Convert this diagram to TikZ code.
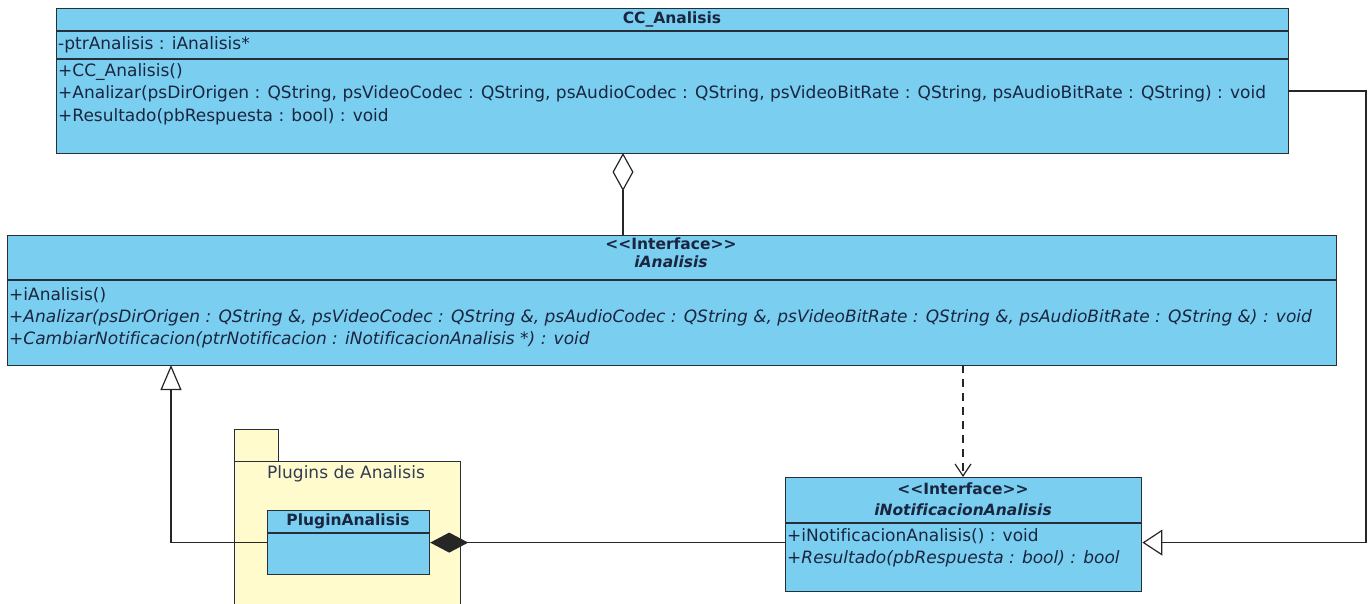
\documentclass[tikz,border=0pt]{standalone}
\usepackage{fontspec}
\setmainfont{DejaVu Sans}[Ligatures={TeX,NoCommon}]
\usetikzlibrary{arrows.meta}
\definecolor{clsfill}{RGB}{122,206,240}
\definecolor{pkgfill}{RGB}{255,251,204}
\definecolor{ink}{RGB}{26,38,64}
\definecolor{edge}{RGB}{38,46,58}
\tikzset{
  classbox/.style={draw=edge, line width=1.4pt, fill=clsfill, inner sep=0pt, anchor=north west},
  pkgbox/.style={draw=edge, line width=1.2pt, fill=pkgfill, inner sep=0pt, anchor=north west},
  sepline/.style={draw=edge, line width=1.3pt},
  member/.style={anchor=west, inner sep=0pt, text=ink, text height=12pt, text depth=4pt,
                 font=\fontsize{17}{19}\selectfont},
  amember/.style={member, font=\fontsize{17}{19}\selectfont\itshape},
  title/.style={anchor=center, inner sep=0pt, text=ink, text height=11pt, text depth=3pt,
                font=\fontsize{15.5}{17}\selectfont\bfseries},
  atitle/.style={title, font=\fontsize{15.5}{17}\selectfont\bfseries\itshape},
  link/.style={draw=black!85, line width=1.2pt},
}
\begin{document}
\begin{tikzpicture}[x=1pt,y=-1pt]
\useasboundingbox (0,0) rectangle (1368,603);
\clip (0,0) rectangle (1368,603);

% ---- CC_Analisis ----
\node[classbox, minimum width=1232pt, minimum height=145pt] (cc) at (56,8) {};
\draw[sepline] (56,31) -- (1288,31);
\draw[sepline] (56,59) -- (1288,59);
\node[title] (ccname) at (672,19) {CC\_Analisis};
\node[member] (cca1) at (58,45) {-ptrAnalisis : iAnalisis*};
\node[member] (ccm1) at (58,72) {+CC\_Analisis()};
\node[member] (ccm2) at (58,94) {+Analizar(psDirOrigen : QString, psVideoCodec : QString, psAudioCodec : QString, psVideoBitRate : QString, psAudioBitRate : QString) : void};
\node[member] (ccm3) at (58,117) {+Resultado(pbRespuesta : bool) : void};

% ---- iAnalisis ----
\node[classbox, minimum width=1329pt, minimum height=130pt] (ia) at (7,235) {};
\draw[sepline] (7,280) -- (1336,280);
\node[title] (iast) at (671,245) {{<}{<}Interface{>}{>}};
\node[atitle] (ianame) at (671,263) {iAnalisis};
\node[member] (iam1) at (9,296) {+iAnalisis()};
\node[amember] (iam2) at (9,318) {+Analizar(psDirOrigen : QString \&, psVideoCodec : QString \&, psAudioCodec : QString \&, psVideoBitRate : QString \&, psAudioBitRate : QString \&) : void};
\node[amember] (iam3) at (9,340) {+CambiarNotificacion(ptrNotificacion : iNotificacionAnalisis *) : void};

% ---- package Plugins de Analisis ----
\node[pkgbox, minimum width=44pt, minimum height=32pt] (pkgtab) at (234,429) {};
\node[pkgbox, minimum width=226pt, minimum height=170pt] (pkg) at (234,461) {};
\node[member, text=ink!90] (pkgname) at (267,474) {Plugins de Analisis};

% ---- PluginAnalisis ----
\node[classbox, line width=1.2pt, minimum width=162pt, minimum height=64pt] (plug) at (267,510) {};
\draw[sepline, line width=1.1pt] (267,533) -- (429,533);
\node[title] (plugname) at (348,521) {PluginAnalisis};

% ---- iNotificacionAnalisis ----
\node[classbox, minimum width=356pt, minimum height=114pt] (inot) at (785,477) {};
\draw[sepline] (785,523) -- (1141,523);
\node[title] (inst) at (963,490) {{<}{<}Interface{>}{>}};
\node[atitle] (inname) at (963,511) {iNotificacionAnalisis};
\node[member] (inm1) at (787,537) {+iNotificacionAnalisis() : void};
\node[amember] (inm2) at (787,559) {+Resultado(pbRespuesta : bool) : bool};

% ---- connectors ----
\coordinate (agtop) at (623,153);
\coordinate (agbot) at (623,235);
\draw[link, {Diamond[open, length=38pt, width=21pt, line width=1.2pt]}-] (agtop) -- (agbot);

\coordinate (deptop) at (963,365);
\coordinate (depbot) at (963,477);
\draw[link, dash pattern=on 8pt off 6pt, -{Straight Barb[length=12pt, width=16pt, line width=1.2pt]}] (deptop) -- (depbot);

\coordinate (gentip) at (171,365);
\draw[link, -{Triangle[open, length=25pt, width=21pt, line width=1.2pt]}] (plug.west) -| (gentip);

\draw[link, {Diamond[length=38pt, width=20pt]}-] (plug.east) -- (plug.east -| inot.west);

\coordinate (ccout) at (1288,91);
\coordinate (corner) at (1366,91);
\draw[link, -{Triangle[open, length=20pt, width=26pt, line width=1.2pt]}] (ccout) -- (corner) |- (plug.east -| inot.east);
\end{tikzpicture}
\end{document}
